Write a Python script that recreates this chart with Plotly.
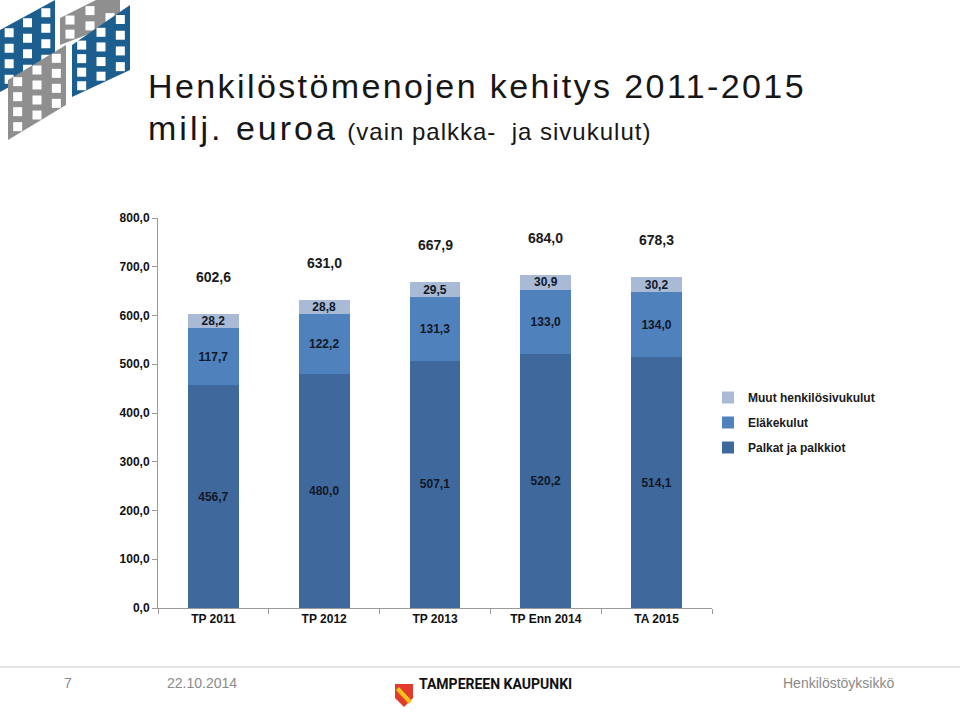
import plotly.graph_objects as go

categories = ["TP 2011", "TP 2012", "TP 2013", "TP Enn 2014", "TA 2015"]
palkat = [456.7, 480.0, 507.1, 520.2, 514.1]
elake = [117.7, 122.2, 131.3, 133.0, 134.0]
muut = [28.2, 28.8, 29.5, 30.9, 30.2]
totals = [602.6, 631.0, 667.9, 684.0, 678.3]

W, H = 960, 712
L, R, T, B = 158, 712, 218, 608


def fx(x):
    return (x - L) / (R - L)


def fy(y):
    return (B - y) / (B - T)


def fmt(v):
    return f"{v:.1f}".replace(".", ",")


FONT = "Liberation Sans, Arial, sans-serif"
fig = go.Figure()
series = [("Palkat ja palkkiot", palkat, "#3F689C", 3),
          ("Eläkekulut", elake, "#4F81BD", 2),
          ("Muut henkilösivukulut", muut, "#A8BAD6", 1)]
for name, vals, col, rank in series:
    fig.add_trace(go.Bar(
        x=categories, y=vals, name=name, legendgroup=name, legendrank=rank,
        marker=dict(color=col, line=dict(width=0)),
        text=[f"<b>{fmt(v)}</b>" for v in vals], textposition="inside", insidetextanchor="middle",
        textfont=dict(family=FONT, size=12, color="#111827"), constraintext="none",
        textangle=0,
    ))

for c, t in zip(categories, totals):
    fig.add_annotation(x=c, y=t, text=f"<b>{fmt(t)}</b>", showarrow=False, yanchor="bottom",
                       yshift=27, font=dict(family=FONT, size=14, color="#1a1a1a"))

# Title
fig.add_annotation(xref="paper", yref="paper", x=fx(146), y=fy(86), xanchor="left", yanchor="middle",
                   text="<span style='letter-spacing:2.4px'>Henkilöstömenojen kehitys 2011-2015</span>",
                   showarrow=False, font=dict(family=FONT, size=34, color="#161616"))
fig.add_annotation(xref="paper", yref="paper", x=fx(146), y=fy(128), xanchor="left", yanchor="middle",
                   text="<span style='letter-spacing:3px'>milj. euroa</span> "
                        "<span style='font-size:24px;letter-spacing:1px'>(vain palkka-  ja sivukulut)</span>",
                   showarrow=False, font=dict(family=FONT, size=34, color="#161616"))

# Footer
fig.add_shape(type="line", xref="paper", yref="paper", x0=fx(0), x1=fx(960), y0=fy(667), y1=fy(667),
              line=dict(color="#e6e6e6", width=2))
fig.add_annotation(xref="paper", yref="paper", x=fx(62), y=fy(693), text="7", showarrow=False,
                   font=dict(family=FONT, size=14, color="#8a8a8a"))
fig.add_annotation(xref="paper", yref="paper", x=fx(165), y=fy(693), xanchor="left", text="22.10.2014",
                   showarrow=False, font=dict(family=FONT, size=14, color="#8a8a8a"))
fig.add_annotation(xref="paper", yref="paper", x=fx(896), y=fy(693), xanchor="right", text="Henkilöstöyksikkö",
                   showarrow=False, font=dict(family=FONT, size=14, color="#8a8a8a"))
fig.add_annotation(xref="paper", yref="paper", x=fx(417), y=fy(694), xanchor="left",
                   text="<b>TAMPEREEN KAUPUNKI</b>", showarrow=False,
                   font=dict(family="Roboto, Liberation Sans, sans-serif", size=14, color="#111111"))


def path(pts):
    return "M " + " L ".join(f"{fx(x)},{fy(y)}" for x, y in pts) + " Z"


# Tampere shield
fig.add_shape(type="path", xref="paper", yref="paper",
              path=path([(395, 684), (413, 684), (413, 698), (404, 707), (395, 698)]),
              fillcolor="#E23A2B", line=dict(width=0))
fig.add_shape(type="path", xref="paper", yref="paper",
              path=path([(396, 690), (399, 687), (412, 701), (409, 704)]),
              fillcolor="#F6C21B", line=dict(width=0))

# Corner logo (stylised flags): left edge (x, ytop, ybot), right edge (x, ytop, ybot)
flags = [
    ((0, 30, 92), (55, 0, 62), "#1C5F8E", 4),
    ((60, 18, 45), (120, -12, 22), "#8F8F8F", 2),
    ((72, 45, 97), (130, 5, 70), "#1C5F8E", 4),
    ((8, 80, 140), (66, 45, 105), "#8F8F8F", 4),
]
for (lx, lt, lb), (rx, rt, rb), col, nr in flags:
    pts = [(lx, lt), (rx, rt), (rx, rb), (lx, lb)]
    fig.add_shape(type="path", xref="paper", yref="paper", path=path(pts),
                  fillcolor=col, line=dict(width=0), layer="above")
    for i in range(3):
        u = (i + 0.5) / 3
        cx = lx + u * (rx - lx)
        top = lt + u * (rt - lt)
        bot = lb + u * (rb - lb)
        for j in range(nr):
            v = (j + 0.5) / nr
            cy = top + v * (bot - top)
            if cy - 4 < 2:
                continue
            fig.add_shape(type="rect", xref="paper", yref="paper",
                          x0=fx(cx - 4.5), x1=fx(cx + 4.5), y0=fy(cy - 4.5), y1=fy(cy + 4.5),
                          fillcolor="white", line=dict(width=0), layer="above")

fig.update_layout(
    width=W, height=H, barmode="stack", bargap=0.54,
    margin=dict(l=L, r=W - R, t=T, b=H - B, pad=0),
    paper_bgcolor="white", plot_bgcolor="white",
    separators=",.",
    font=dict(family=FONT, size=12, color="#1a1a1a"),
    showlegend=True,
    legend=dict(x=fx(708), y=fy(383), xanchor="left", yanchor="top", traceorder="grouped",
                font=dict(family=FONT, size=12, color="#1a1a1a", weight="bold"), tracegroupgap=6,
                itemwidth=30, bgcolor="rgba(0,0,0,0)"),
)
fig.update_xaxes(showline=True, linecolor="#9a9a9a", linewidth=1, ticks="outside", tickson="boundaries",
                 ticklen=5, tickcolor="#9a9a9a", showgrid=False,
                 tickfont=dict(family=FONT, size=12, color="#111111", weight="bold"))
fig.update_yaxes(range=[0, 800], dtick=100, tickformat=".1f", showline=True, linecolor="#9a9a9a",
                 linewidth=1, ticks="outside", ticklen=5, tickcolor="#9a9a9a", showgrid=False,
                 zeroline=False, tickfont=dict(family=FONT, size=12, color="#111111", weight="bold"))

fig.write_html("out.html")
